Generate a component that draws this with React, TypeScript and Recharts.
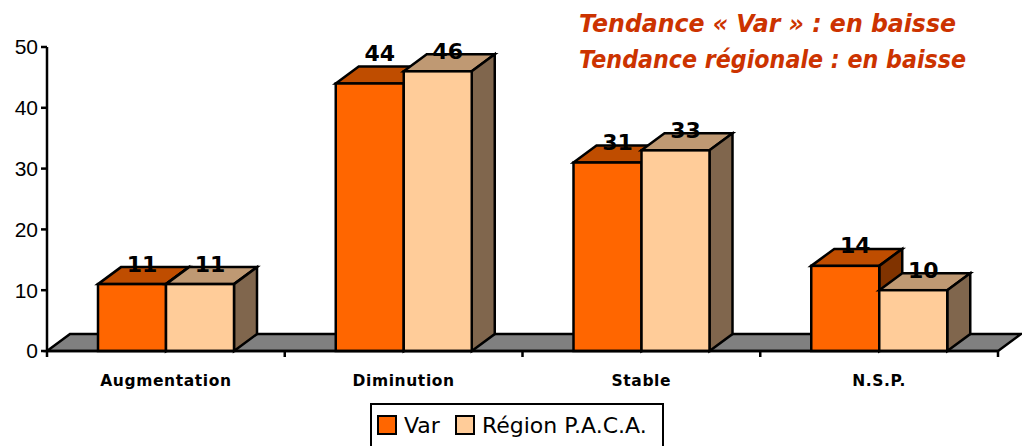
import { Bar, BarChart, LabelList, Legend, XAxis, YAxis, usePlotArea } from "recharts"

const categories = ["Augmentation", "Diminution", "Stable", "N.S.P."]
const varValues = [11, 44, 31, 14]
const pacaValues = [11, 46, 33, 10]
const yTicks = [0, 10, 20, 30, 40, 50]

const data = categories.map((name, i) => ({ name, var: varValues[i], paca: pacaValues[i] }))

const DEPTH_X = 23
const DEPTH_Y = 17
const LINE = 2.5
const COMIC = '"DejaVu Sans", sans-serif'

function Floor() {
  const plot = usePlotArea()
  if (!plot) return null
  const { x, y, width, height } = plot
  const bottom = y + height
  const band = width / categories.length
  return (
    <g>
      <polygon
        points={`${x},${bottom} ${x + width},${bottom} ${x + width + DEPTH_X},${bottom - DEPTH_Y} ${x + DEPTH_X},${bottom - DEPTH_Y}`}
        fill="#808080"
        stroke="#000"
        strokeWidth={LINE}
      />
      {[0, 1, 2, 3, 4].map((i) => (
        <line key={i} x1={x + band * i} x2={x + band * i} y1={bottom} y2={bottom + 6} stroke="#000" strokeWidth={LINE} />
      ))}
    </g>
  )
}

function Box3D({ x, y, width, height, fill, topFill, sideFill }: any) {
  const dx = DEPTH_X
  const dy = DEPTH_Y
  return (
    <g stroke="#000" strokeWidth={LINE} strokeLinejoin="miter">
      <polygon
        points={`${x},${y} ${x + dx},${y - dy} ${x + width + dx},${y - dy} ${x + width},${y}`}
        fill={topFill}
      />
      <polygon
        points={`${x + width},${y} ${x + width + dx},${y - dy} ${x + width + dx},${y + height - dy} ${x + width},${y + height}`}
        fill={sideFill}
      />
      <rect x={x} y={y} width={width} height={height} fill={fill} />
    </g>
  )
}

function ValueLabel({ x, y, width, value, index, lift }: any) {
  const extra = lift && index === 1 ? 10 : 0
  return (
    <text
      x={x + width / 2 + 10}
      y={y - 20 - extra}
      textAnchor="middle"
      dominantBaseline="central"
      fontFamily={COMIC}
      fontWeight="bold"
      fontSize={22}
      fill="#000"
    >
      {value}
    </text>
  )
}

function LegendBox({ payload }: any) {
  return (
    <div
      style={{
        display: "flex",
        alignItems: "center",
        boxSizing: "border-box",
        width: 294,
        height: 50,
        paddingLeft: 5,
        paddingBottom: 6,
        border: "2px solid #000",
        background: "#fff",
        fontFamily: COMIC,
        fontSize: 22,
        whiteSpace: "nowrap",
        color: "#000",
      }}
    >
      {(payload || []).map((item: any) => (
        <span key={item.value} style={{ display: "flex", alignItems: "center", marginRight: 15 }}>
          <span
            style={{
              display: "inline-block",
              boxSizing: "border-box",
              width: 20,
              height: 20,
              marginRight: 7,
              border: "2px solid #000",
              background: item.color,
            }}
          />
          {item.value}
        </span>
      ))}
    </div>
  )
}

export default function App() {
  return (
    <div style={{ position: "fixed", left: 0, top: 0, width: 1022, height: 446, overflow: "hidden", background: "#fff" }}>
      <BarChart
        width={1022}
        height={446}
        data={data}
        barSize={68}
        barGap={0}
        margin={{ top: 47, right: 24, bottom: 50, left: 0 }}
      >
        <Floor />
        <XAxis
          dataKey="name"
          height={45}
          tickLine={false}
          tickMargin={18}
          stroke="#000"
          strokeWidth={LINE}
          tick={{ fill: "#000", fontFamily: COMIC, fontWeight: "bold", fontSize: 15.5, letterSpacing: 0.6 }}
        />
        <YAxis
          width={47}
          domain={[0, 50]}
          ticks={yTicks}
          interval={0}
          tickSize={6}
          tickMargin={3}
          stroke="#000"
          strokeWidth={LINE}
          tick={{ fill: "#000", fontFamily: '"Liberation Sans", Arial, sans-serif', fontSize: 21 }}
        />
        <Bar
          dataKey="var"
          name="Var"
          fill="#FF6600"
          isAnimationActive={false}
          shape={(p: any) => <Box3D {...p} topFill="#BF4D00" sideFill="#803300" />}
        >
          <LabelList dataKey="var" content={(p: any) => <ValueLabel {...p} lift />} />
        </Bar>
        <Bar
          dataKey="paca"
          name="Région P.A.C.A."
          fill="#FFCC99"
          isAnimationActive={false}
          shape={(p: any) => <Box3D {...p} topFill="#BF9973" sideFill="#80664D" />}
        >
          <LabelList dataKey="paca" content={(p: any) => <ValueLabel {...p} />} />
        </Bar>
        <Legend
          layout="vertical"
          align="center"
          verticalAlign="middle"
          itemSorter={null as any}
          content={<LegendBox />}
          wrapperStyle={{ left: 370, top: 403, width: 294, height: 50 }}
        />
        <text
          x={579}
          y={32}
          fontFamily={COMIC}
          fontWeight="bold"
          fontStyle="italic"
          fontSize={24}
          fill="#CC3300"
          textLength={377}
          lengthAdjust="spacingAndGlyphs"
        >
          Tendance « Var » : en baisse
        </text>
        <text
          x={579}
          y={68}
          fontFamily={COMIC}
          fontWeight="bold"
          fontStyle="italic"
          fontSize={24}
          fill="#CC3300"
          textLength={387}
          lengthAdjust="spacingAndGlyphs"
        >
          Tendance régionale : en baisse
        </text>
      </BarChart>
    </div>
  )
}
